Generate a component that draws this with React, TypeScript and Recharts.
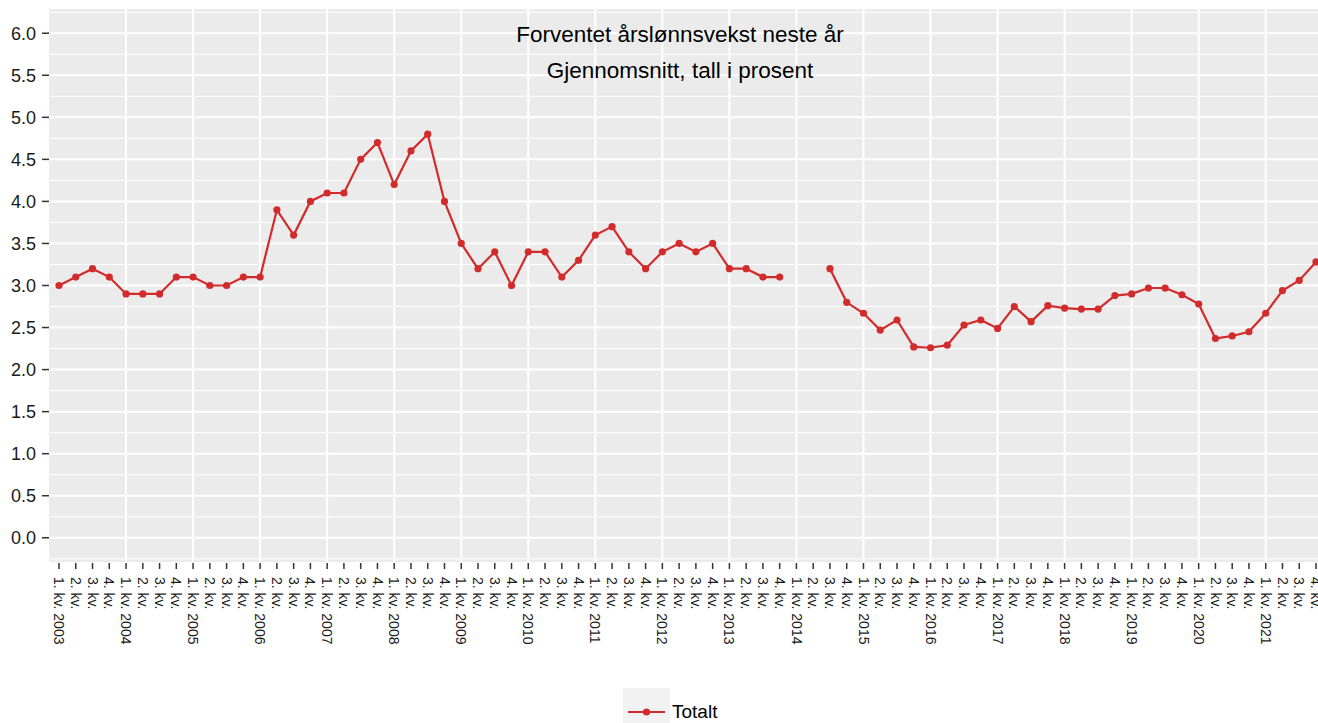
import { LineChart, Line, XAxis, YAxis, CartesianGrid, ReferenceLine } from 'recharts';

const years = [2003, 2004, 2005, 2006, 2007, 2008, 2009, 2010, 2011, 2012, 2013, 2014, 2015, 2016, 2017, 2018, 2019, 2020, 2021];
const quarters = ['1. kv.', '2. kv.', '3. kv.', '4. kv.'];

// one value per quarter, 1. kv. 2003 .. 4. kv. 2021 (two missing quarters in 2014)
const totalt: (number | null)[] = [
  3.0, 3.1, 3.2, 3.1,
  2.9, 2.9, 2.9, 3.1,
  3.1, 3.0, 3.0, 3.1,
  3.1, 3.9, 3.6, 4.0,
  4.1, 4.1, 4.5, 4.7,
  4.2, 4.6, 4.8, 4.0,
  3.5, 3.2, 3.4, 3.0,
  3.4, 3.4, 3.1, 3.3,
  3.6, 3.7, 3.4, 3.2,
  3.4, 3.5, 3.4, 3.5,
  3.2, 3.2, 3.1, 3.1,
  null, null, 3.2, 2.8,
  2.67, 2.47, 2.59, 2.27,
  2.26, 2.29, 2.53, 2.59,
  2.49, 2.75, 2.57, 2.76,
  2.73, 2.72, 2.72, 2.88,
  2.9, 2.97, 2.97, 2.89,
  2.78, 2.37, 2.4, 2.45,
  2.67, 2.94, 3.06, 3.28,
];

const yTicks = [0, 0.5, 1, 1.5, 2, 2.5, 3, 3.5, 4, 4.5, 5, 5.5, 6];
const yMinor = [-0.25, 0.25, 0.75, 1.25, 1.75, 2.25, 2.75, 3.25, 3.75, 4.25, 4.75, 5.25, 5.75, 6.25];

const RED = '#D22B2B';
const FONT = '"Liberation Sans", Arial, sans-serif';

const data = years.flatMap((yr, yi) =>
  quarters.map((q, qi) => ({
    key: `${yr}K${qi + 1}`,
    label: qi === 0 ? `${q} ${yr}` : q,
    totalt: totalt[yi * 4 + qi],
  })),
);
const labelOf: Record<string, string> = Object.fromEntries(data.map((d) => [d.key, d.label]));

function QuarterTick({ x, y, payload }: any) {
  return (
    <text
      transform={`translate(${x},${y}) rotate(90)`}
      textAnchor="start"
      dy="0.35em"
      fontSize={14}
      fontFamily={FONT}
      fill="#1a1a1a"
    >
      {labelOf[payload.value]}
    </text>
  );
}

const titleStyle = {
  position: 'absolute' as const,
  left: 480,
  width: 400,
  textAlign: 'center' as const,
  fontSize: 22.5,
  lineHeight: '26px',
  color: '#000',
  whiteSpace: 'nowrap' as const,
};

export default function App() {
  return (
    <div style={{ position: 'absolute', left: 0, top: 0, width: 1318, height: 723, overflow: 'hidden', background: '#fff', fontFamily: FONT }}>
      <LineChart width={1326} height={723} data={data} margin={{ top: 8, right: 0, bottom: 60, left: 0 }}>
        <CartesianGrid vertical={false} fill="#EBEBEB" fillOpacity={1} stroke="#fff" strokeWidth={2} />
        {yMinor.map((v) => (
          <ReferenceLine key={v} y={v} stroke="#fff" strokeWidth={1} />
        ))}
        {years.map((yr) => (
          <ReferenceLine key={yr} x={`${yr}K1`} stroke="#fff" strokeWidth={2} />
        ))}
        <XAxis
          dataKey="key"
          type="category"
          interval={0}
          padding={{ left: 10, right: 10 }}
          height={100}
          axisLine={false}
          tickSize={6}
          tickMargin={8}
          tickLine={{ stroke: '#333', strokeWidth: 1.5 }}
          tick={<QuarterTick />}
        />
        <YAxis
          type="number"
          domain={[-0.3, 6.3]}
          ticks={yTicks}
          width={49}
          axisLine={false}
          tickSize={7}
          tickMargin={6}
          tickLine={{ stroke: '#333', strokeWidth: 1.5 }}
          tickFormatter={(v: number) => v.toFixed(1)}
          tick={{ fontSize: 18, fill: '#1a1a1a', fontFamily: FONT }}
        />
        <Line
          dataKey="totalt"
          name="Totalt"
          stroke={RED}
          strokeWidth={2.2}
          dot={{ r: 3.6, fill: RED, stroke: 'none' }}
          activeDot={false}
          isAnimationActive={false}
        />
      </LineChart>
      <div style={{ ...titleStyle, top: 22 }}>Forventet årslønnsvekst neste år</div>
      <div style={{ ...titleStyle, top: 58 }}>Gjennomsnitt, tall i prosent</div>
      <div style={{ position: 'absolute', left: 623, top: 688, display: 'flex', alignItems: 'flex-start' }}>
        <svg width={47} height={40} style={{ display: 'block' }}>
          <rect x={0} y={0} width={47} height={40} fill="#F2F2F2" />
          <line x1={5} x2={42} y1={24} y2={24} stroke={RED} strokeWidth={2.2} />
          <circle cx={23.5} cy={24} r={3.6} fill={RED} />
        </svg>
        <span style={{ fontSize: 19, color: '#000', marginLeft: 2, marginTop: 13, lineHeight: '22px' }}>Totalt</span>
      </div>
    </div>
  );
}
